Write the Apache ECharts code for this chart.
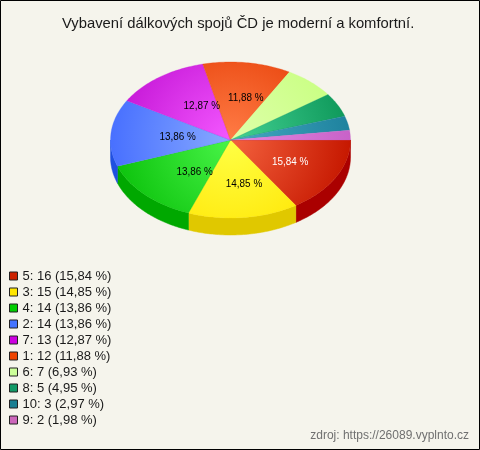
<!DOCTYPE html>
<html>
<head>
<meta charset="utf-8">
<script src="https://cdn.jsdelivr.net/npm/echarts@6/dist/echarts.min.js"></script>
<style>
  html, body { margin: 0; padding: 0; background: #f5f4ec; }
  #chart { width: 480px; height: 450px; }
</style>
</head>
<body>
<div id="chart"></div>
<script>
// odpovědi (v pořadí od největší)
const categories = ['5', '3', '4', '2', '7', '1', '6', '8', '10', '9'];
const values = [16, 15, 14, 14, 13, 12, 7, 5, 3, 2];
const titleText = 'Vybavení dálkových spojů ČD je moderní a komfortní.';
const sourceText = 'zdroj: https://26089.vyplnto.cz';

// barvy: legenda, vrch (střed / okraj), bok
const legendColors = ['#cc2200', '#ffe600', '#00cc00', '#4474ff', '#cc00e0', '#ee4400', '#ccff99', '#119966', '#1a7f92', '#cc66bb'];
const topLight = ['#f4623e', '#ffff44', '#48f448', '#88aaff', '#f458ff', '#ff7c46', '#deffaa', '#44d294', '#46aac2', '#e48ae4'];
const topDark = ['#c61800', '#ffe400', '#0cc20c', '#4870ff', '#c416d6', '#e63e06', '#c8ff80', '#0e985a', '#1e829e', '#c862c8'];
const sideColors = ['#aa0000', '#e0c800', '#00a800', '#2050e0', '#a010b8', '#c83000', '#a8d860', '#087a48', '#146880', '#a850a8'];

const total = values.reduce((a, b) => a + b, 0);
const cx = 230.5, cy = 140, rx = 120, ry = 78, depth = 17;
const font = '"Liberation Sans", Arial, sans-serif';

function pct (v) {
	return (v / total * 100).toFixed(2).replace('.', ',') + ' %';
}

// úhly výsečí, po směru hodinových ručiček od 3 hodin
let startAngles = [];
let acc = 0;
values.forEach(v => {
	startAngles.push(acc / total * Math.PI * 2);
	acc += v;
});

function arcPoints (a0, a1, dy) {
	let pts = [];
	let steps = Math.max(2, Math.ceil((a1 - a0) / (Math.PI / 180)));
	for (let k = 0; k <= steps; k++) {
		let a = a0 + (a1 - a0) * k / steps;
		pts.push([cx + rx * Math.cos(a), cy + ry * Math.sin(a) + dy]);
	}
	return pts;
}

function makeRender (i) {
	return function (params, api) {
		let v = api.value(0);
		let a0 = startAngles[i];
		let a1 = a0 + v / total * Math.PI * 2;
		let children = [];
		// bok (jen přední polovina)
		let s0 = Math.max(a0, 0), s1 = Math.min(a1, Math.PI);
		if (s1 > s0) {
			let top = arcPoints(s0, s1, 0);
			let bottom = arcPoints(s0, s1, depth).reverse();
			children.push({
				type: 'polygon',
				shape: { points: top.concat(bottom) },
				style: { fill: sideColors[i], stroke: sideColors[i], lineWidth: 0.5 }
			});
		}
		// vrchní plocha
		children.push({
			type: 'polygon',
			shape: { points: [[cx, cy]].concat(arcPoints(a0, a1, 0)) },
			style: {
				fill: new echarts.graphic.RadialGradient(cx, cy, rx, [
					{ offset: 0, color: topLight[i] },
					{ offset: 1, color: topDark[i] }
				], true),
				stroke: topDark[i],
				lineWidth: 0.3
			}
		});
		// popisek procent
		if (v / total >= 0.1) {
			let m = (a0 + a1) / 2;
			children.push({
				type: 'text',
				z2: 100,
				x: cx + 0.5 * rx * Math.cos(m) + 7,
				y: cy + 0.56 * ry * Math.sin(m) + 1,
				scaleX: 0.9,
				style: {
					text: pct(v),
					fill: i === 0 ? '#ffffff' : '#000000',
					font: '11px ' + font,
					align: 'center',
					verticalAlign: 'middle'
				}
			});
		}
		return { type: 'group', children: children };
	};
}

let chart = echarts.init(document.getElementById('chart'));
chart.setOption({
	backgroundColor: '#f5f4ec',
	animation: false,
	title: {
		text: titleText,
		left: 57,
		top: 11,
		textStyle: {
			fontSize: 14.8,
			fontWeight: 'normal',
			color: '#1a1a1a',
			fontFamily: font
		}
	},
	legend: {
		orient: 'vertical',
		left: 4,
		top: 263,
		icon: 'rect',
		itemWidth: 8,
		itemHeight: 8,
		itemGap: 0,
		selectedMode: false,
		itemStyle: { borderColor: '#222', borderWidth: 1 },
		textStyle: {
			fontSize: 13,
			lineHeight: 16,
			color: '#1a1a1a',
			fontFamily: font
		},
		data: categories,
		formatter: function (name) {
			let i = categories.indexOf(name);
			return name + ': ' + values[i] + ' (' + pct(values[i]) + ')';
		}
	},
	graphic: [
		{
			type: 'rect',
			shape: { x: 0.5, y: 0.5, width: 479, height: 449 },
			style: { fill: null, stroke: '#000', lineWidth: 1 },
			silent: true
		},
		{
			type: 'text',
			right: 11,
			top: 430,
			style: {
				text: sourceText,
				fill: '#707070',
				font: '12px ' + font
			}
		}
	],
	series: categories.map((c, i) => ({
		type: 'custom',
		name: c,
		coordinateSystem: 'none',
		silent: true,
		itemStyle: { color: legendColors[i] },
		data: [[values[i]]],
		renderItem: makeRender(i)
	}))
});
</script>
</body>
</html>
